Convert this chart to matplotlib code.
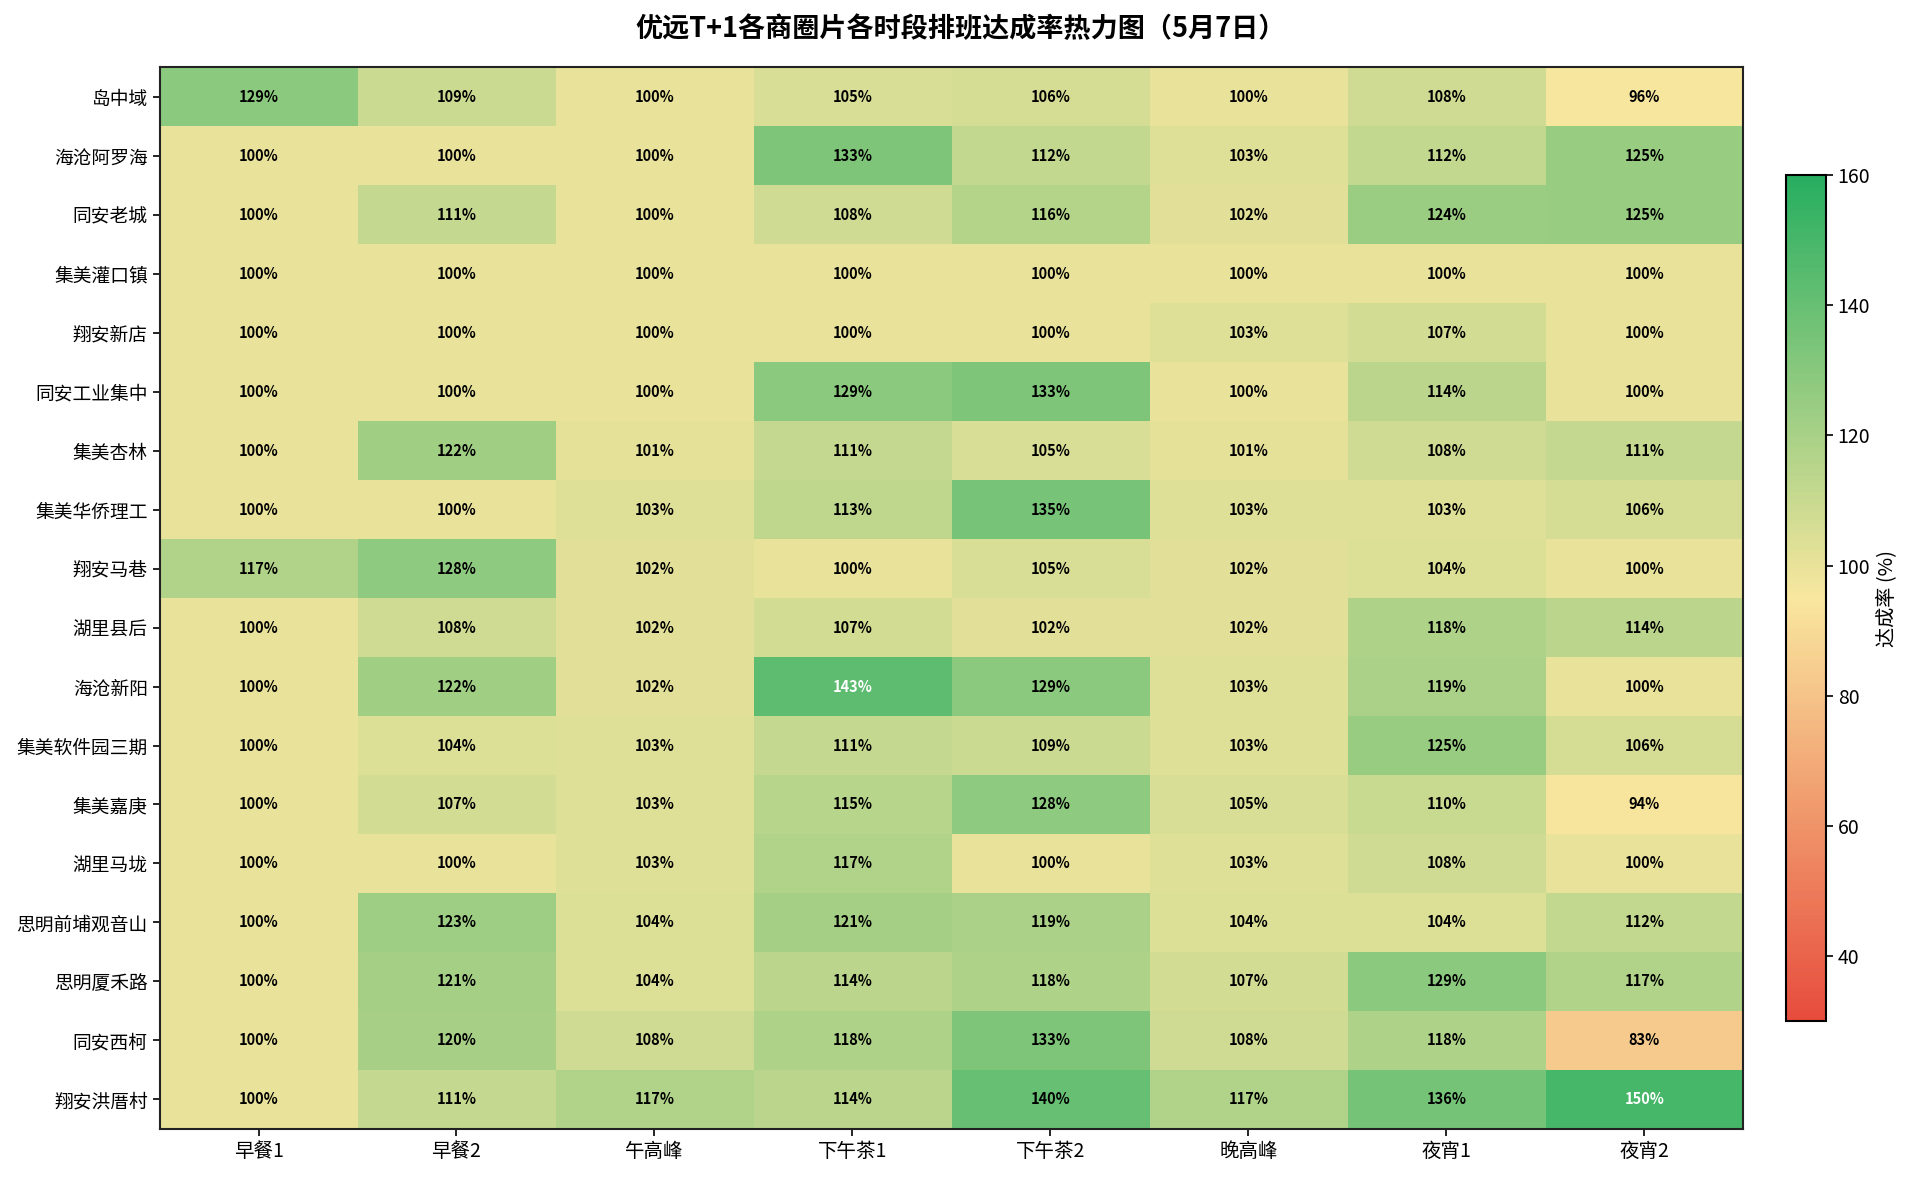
import matplotlib
matplotlib.use("Agg")
import matplotlib.pyplot as plt
import numpy as np
from matplotlib.colors import LinearSegmentedColormap

plt.rcParams['font.family'] = ['Noto Sans CJK SC', 'DejaVu Sans']
plt.rcParams['axes.unicode_minus'] = False

areas = ["岛中域", "海沧阿罗海", "同安老城", "集美灌口镇", "翔安新店", "同安工业集中",
         "集美杏林", "集美华侨理工", "翔安马巷", "湖里县后", "海沧新阳", "集美软件园三期",
         "集美嘉庚", "湖里马垅", "思明前埔观音山", "思明厦禾路", "同安西柯", "翔安洪厝村"]
periods = ["早餐1", "早餐2", "午高峰", "下午茶1", "下午茶2", "晚高峰", "夜宵1", "夜宵2"]

rates = [
    [129, 109, 100, 105, 106, 100, 108, 96],
    [100, 100, 100, 133, 112, 103, 112, 125],
    [100, 111, 100, 108, 116, 102, 124, 125],
    [100, 100, 100, 100, 100, 100, 100, 100],
    [100, 100, 100, 100, 100, 103, 107, 100],
    [100, 100, 100, 129, 133, 100, 114, 100],
    [100, 122, 101, 111, 105, 101, 108, 111],
    [100, 100, 103, 113, 135, 103, 103, 106],
    [117, 128, 102, 100, 105, 102, 104, 100],
    [100, 108, 102, 107, 102, 102, 118, 114],
    [100, 122, 102, 143, 129, 103, 119, 100],
    [100, 104, 103, 111, 109, 103, 125, 106],
    [100, 107, 103, 115, 128, 105, 110, 94],
    [100, 100, 103, 117, 100, 103, 108, 100],
    [100, 123, 104, 121, 119, 104, 104, 112],
    [100, 121, 104, 114, 118, 107, 129, 117],
    [100, 120, 108, 118, 133, 108, 118, 83],
    [100, 111, 117, 114, 140, 117, 136, 150],
]

data = np.array(rates, dtype=float)
cmap = LinearSegmentedColormap.from_list("rg", ["#e74c3c", "#f9e79f", "#27ae60"])

fig = plt.figure(figsize=(19.22, 11.82), dpi=100)
ax = fig.add_axes([0.083, 0.045, 0.824, 0.898])
cax = fig.add_axes([0.929, 0.136, 0.021, 0.716])

im = ax.imshow(data, cmap=cmap, vmin=30, vmax=160, aspect='auto', interpolation='nearest')

ax.set_xticks(np.arange(len(periods)))
ax.set_xticklabels(periods, fontsize=14)
ax.set_yticks(np.arange(len(areas)))
ax.set_yticklabels(areas, fontsize=13.5)
for s in ax.spines.values():
    s.set_linewidth(1.5)
    s.set_color('#222222')
ax.tick_params(length=5, width=1.2)

for i in range(data.shape[0]):
    for j in range(data.shape[1]):
        v = data[i, j]
        ax.text(j, i, f"{int(v)}%", ha='center', va='center', fontsize=10.5,
                fontweight='bold', color='white' if v > 140 else 'black')

cb = fig.colorbar(im, cax=cax)
cb.set_label("达成率 (%)", fontsize=14.5)
cb.ax.tick_params(labelsize=14, length=5, width=1.2)
cb.outline.set_linewidth(1.5)

fig.suptitle("优远T+1各商圈片各时段排班达成率热力图（5月7日）", fontsize=19.5, fontweight='bold', y=0.987)

fig.savefig("out.png", dpi=100)
